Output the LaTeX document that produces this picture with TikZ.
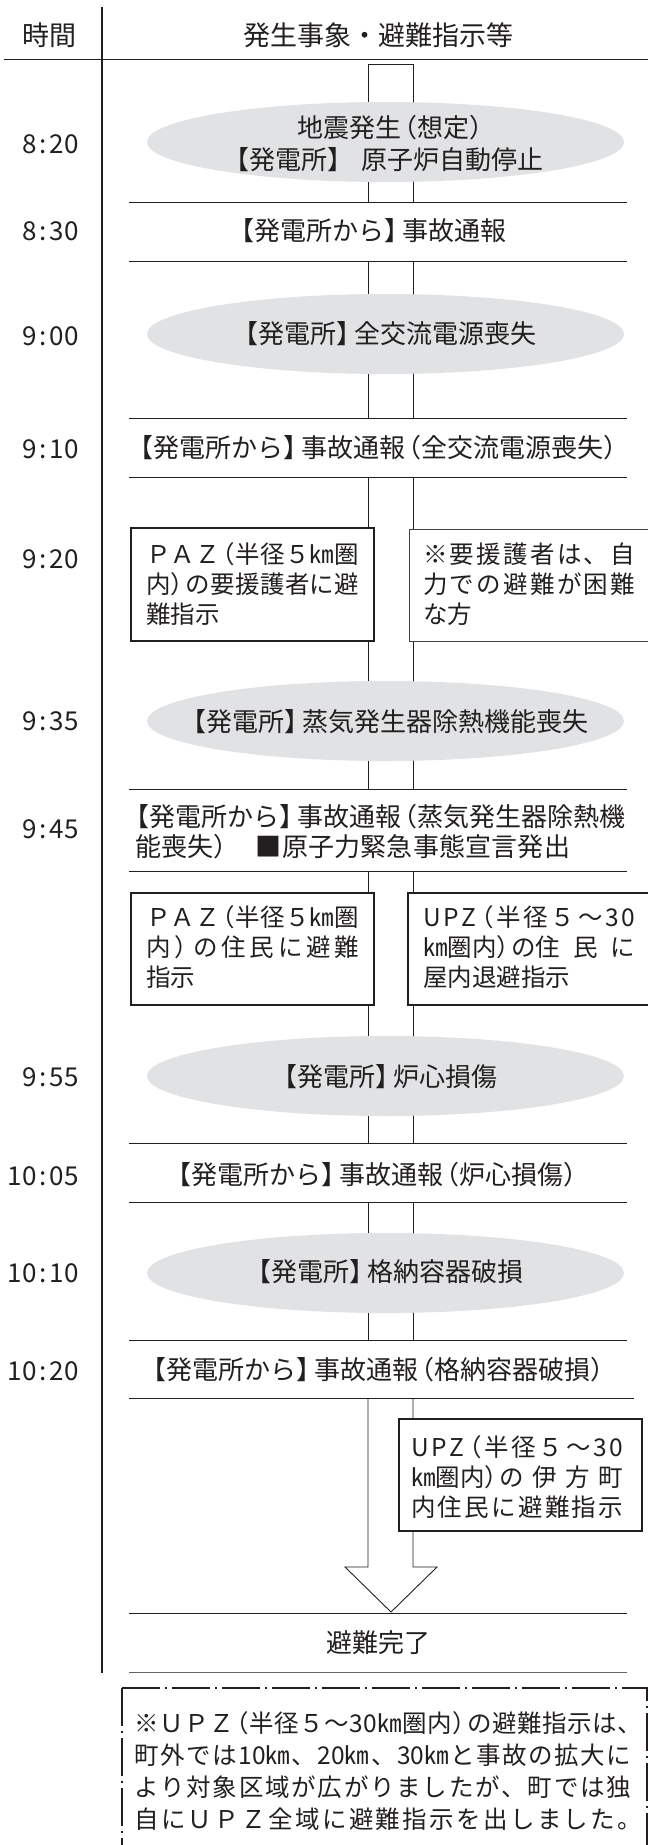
\documentclass[tikz,border=0pt]{standalone}
\usepackage{fontspec}
\setmainfont{Noto Sans CJK JP}
\usetikzlibrary{shapes.geometric}
\definecolor{ink}{RGB}{35,31,32}
\definecolor{ellfill}{RGB}{225,226,228}
\makeatletter
\def\spr@#1#2\@nil{#1\if\relax\detokenize{#2}\relax\else\hfil\spr@#2\@nil\fi}
\newcommand\spreadto[2]{\leavevmode\hbox to #1{\spr@#2\@nil}}
\makeatother
\newcommand\LP{\kern-0.4em（}
\newcommand\RP{）\kern-0.4em}
\newcommand\LB{\kern-0.3em【}
\newcommand\RB{】\kern-0.3em}
\newcommand\tm[2]{#1\kern3pt:\kern3pt#2}
\tikzset{
  base/.style={text=ink, inner sep=0pt, font=\fontsize{26}{30}\selectfont},
  boxtxt/.style={base, anchor=west, font=\fontsize{24.5}{30}\selectfont},
  hdr/.style={base, font=\fontsize{27}{30}\selectfont},
  time/.style={base, anchor=east, font=\fontsize{26}{30}\selectfont},
  evshape/.style={ellipse, fill=ellfill, minimum width=477pt, minimum height=80pt, inner sep=0pt},
  evtxt/.style={base},
  boldbox/.style={draw=ink, line width=1.8pt, fill=white, inner sep=0pt},
  thinbox/.style={draw=ink!85, line width=0.8pt, fill=white, inner sep=0pt},
  hline/.style={draw=ink, line width=0.9pt},
  shaft/.style={draw=ink, line width=0.9pt, line join=miter},
  divider/.style={draw=ink, line width=1.2pt},
  dashbox/.style={draw=ink, line width=1.4pt, dash pattern=on 38pt off 5pt on 2pt off 5pt},
}
\begin{document}
\begin{tikzpicture}[x=1pt,y=-1pt]
\useasboundingbox (0,0) rectangle (648,1845);

% header
\coordinate (dvT) at (102,7);
\coordinate (dvB) at (102,1673);
\coordinate (hdL) at (4,59);
\coordinate (hdR) at (648,59);
\draw[divider] (dvT) -- (dvB);
\draw[hline] (hdL) -- (hdR);
\node[hdr] (hTime) at (49,35) {時間};
\node[hdr] (hEvent) at (378,35) {発生事象・避難指示等};

% horizontal row lines
\coordinate (h1) at (129,202);   \coordinate (h1e) at (627,202);
\coordinate (h2) at (129,261);   \coordinate (h2e) at (627,261);
\coordinate (h3) at (129,418);   \coordinate (h3e) at (627,418);
\coordinate (h4) at (129,477);   \coordinate (h4e) at (627,477);
\coordinate (h5) at (129,789);   \coordinate (h5e) at (627,789);
\coordinate (h6) at (129,871);   \coordinate (h6e) at (627,871);
\coordinate (h7) at (129,1143);  \coordinate (h7e) at (627,1143);
\coordinate (h8) at (129,1202);  \coordinate (h8e) at (627,1202);
\coordinate (h9) at (129,1340);  \coordinate (h9e) at (627,1340);
\coordinate (h10) at (129,1398); \coordinate (h10e) at (634,1398);
\coordinate (h11) at (129,1613); \coordinate (h11e) at (627,1613);
\coordinate (h12) at (129,1672); \coordinate (h12e) at (627,1672);
\foreach \p in {h1,h2,h3,h4,h5,h6,h7,h8,h9,h10,h11}{\draw[hline] (\p) -- (\p e);}
\draw[hline, draw=ink!70] (h12) -- (h12e);

% arrow shaft
\coordinate (sL) at (368,0);
\coordinate (sR) at (413,0);
\coordinate (stop) at (390.5,64);
\coordinate (hwL) at (345,1567);
\coordinate (hwR) at (437,1567);
\coordinate (tip) at (391,1612);
\draw[shaft] (sL |- h1) -- (sL |- stop) -- (sR |- stop) -- (sR |- h1);
\foreach \a/\b in {h2/h3,h4/h5,h6/h7,h8/h9}{
  \draw[shaft] (sL |- \a) -- (sL |- \b);
  \draw[shaft] (sR |- \a) -- (sR |- \b);
}
\draw[shaft] (sL |- h10) -- (sL |- hwL) -- (hwL) -- (tip) -- (hwR) -- (sR |- hwR) -- (sR |- h10);

% times
\node[time] (t1) at (79,144) {\tm{8}{20}};
\node[time] (t2) at (79,231) {\tm{8}{30}};
\node[time] (t3) at (79,336) {\tm{9}{00}};
\node[time] (t4) at (79,449) {\tm{9}{10}};
\node[time] (t5) at (79,559) {\tm{9}{20}};
\node[time] (t6) at (79,721) {\tm{9}{35}};
\node[time] (t7) at (79,829) {\tm{9}{45}};
\node[time] (t8) at (79,1077) {\tm{9}{55}};
\node[time] (t9) at (79,1176) {\tm{10}{05}};
\node[time] (t10) at (79,1273) {\tm{10}{10}};
\node[time] (t11) at (79,1371) {\tm{10}{20}};

% events (ellipses)
\node[evshape] (e1) at (385.5,142) {};
\node[evtxt] (e1a) at (391,128) {地震発生\LP 想定\RP};
\node[evtxt] (e1b) at (387,160) {\LB 発電所\RB\kern16pt 原子炉自動停止};
\node[evshape] (e2) at (385.5,334) {};
\node[evtxt] (e2t) at (388,334) {\LB 発電所\RB 全交流電源喪失};
\node[evshape] (e3) at (385.5,721) {};
\node[evtxt] (e3t) at (388,722) {\LB 発電所\RB 蒸気発生器除熱機能喪失};
\node[evshape] (e4) at (385.5,1076) {};
\node[evtxt] (e4t) at (388,1077) {\LB 発電所\RB 炉心損傷};
\node[evshape] (e5) at (385.5,1273) {};
\node[evtxt] (e5t) at (388,1272) {\LB 発電所\RB 格納容器破損};

% rows
\node[base] (r1) at (371,231) {\LB 発電所から\RB 事故通報};
\node[base] (r2) at (377,448) {\LB 発電所から\RB 事故通報\LP 全交流電源喪失\RP};
\node[base, anchor=west] (r3a) at (131,817) {\LB 発電所から\RB 事故通報\LP 蒸気発生器除熱機};
\node[base, anchor=west] (r3b) at (135,847) {\spreadto{435pt}{能喪失\RP 　■原子力緊急事態宣言発出}};
\node[base] (r4) at (376,1175) {\LB 発電所から\RB 事故通報\LP 炉心損傷\RP};
\node[base] (r5) at (377,1370) {\LB 発電所から\RB 事故通報\LP 格納容器破損\RP};
\node[base] (r6) at (378,1643) {避難完了};

% boxes 9:20
\node[boldbox, minimum width=243pt, minimum height=113pt] (paz1) at (252.5,584.5) {};
\node[boxtxt] (paz1a) at (146,554) {\spreadto{213pt}{ＰＡＺ\LP 半径５㎞圏}};
\node[boxtxt] (paz1b) at (146,584) {\spreadto{213pt}{内\RP の要援護者に避}};
\node[boxtxt] (paz1c) at (146,614) {難指示};
\node[thinbox, minimum width=251pt, minimum height=112pt] (note1) at (534.5,585) {};
\node[boxtxt] (note1a) at (423,554) {\spreadto{212pt}{※要援護者は、自}};
\node[boxtxt] (note1b) at (423,584) {\spreadto{212pt}{力での避難が困難}};
\node[boxtxt] (note1c) at (423,614) {な方};

% boxes 9:45
\node[boldbox, minimum width=243pt, minimum height=112pt] (paz2) at (252.5,949) {};
\node[boxtxt] (paz2a) at (146,917) {\spreadto{213pt}{ＰＡＺ\LP 半径５㎞圏}};
\node[boxtxt] (paz2b) at (146,947) {\spreadto{213pt}{内\RP の住民に避難}};
\node[boxtxt] (paz2c) at (146,977) {指示};
\node[boldbox, minimum width=252pt, minimum height=112pt] (upz1) at (534,949) {};
\node[boxtxt] (upz1a) at (423,917) {\spreadto{212pt}{UPZ\LP 半径５～{30}}};
\node[boxtxt] (upz1b) at (423,947) {\hbox to 212pt{㎞圏内\RP の住\hfil 民\hfil に}};
\node[boxtxt] (upz1c) at (423,977) {屋内退避指示};

% box 10:20
\node[boldbox, minimum width=243pt, minimum height=112pt] (upz2) at (520.5,1475) {};
\node[boxtxt] (upz2a) at (411,1447) {\spreadto{212pt}{UPZ\LP 半径５～{30}}};
\node[boxtxt] (upz2b) at (411,1477) {\hbox to 212pt{㎞圏内\RP の\hfil 伊\hfil 方\hfil 町}};
\node[boxtxt] (upz2c) at (411,1507) {\spreadto{212pt}{内住民に避難指示}};

% dashed note
\coordinate (nbTL) at (122,1688);
\coordinate (nbBL) at (122,1900);
\coordinate (nbTR) at (647,1688);
\coordinate (nbBR) at (647,1900);
\draw[dashbox] (nbTL) -- (nbBL);
\draw[dashbox] (nbTL) -- (nbTR) -- (nbBR);
\node[boxtxt] (n1) at (134,1723) {\spreadto{508pt}{※ＵＰＺ\LP 半径５～{30㎞}圏内\RP の避難指示は、}};
\node[boxtxt] (n2) at (134,1755) {\spreadto{497pt}{町外では{10㎞}、{20㎞}、{30㎞}と事故の拡大に}};
\node[boxtxt] (n3) at (134,1787) {\spreadto{497pt}{より対象区域が広がりましたが、町では独}};
\node[boxtxt] (n4) at (134,1819) {\spreadto{508pt}{自にＵＰＺ全域に避難指示を出しました。}};
\end{tikzpicture}
\end{document}
